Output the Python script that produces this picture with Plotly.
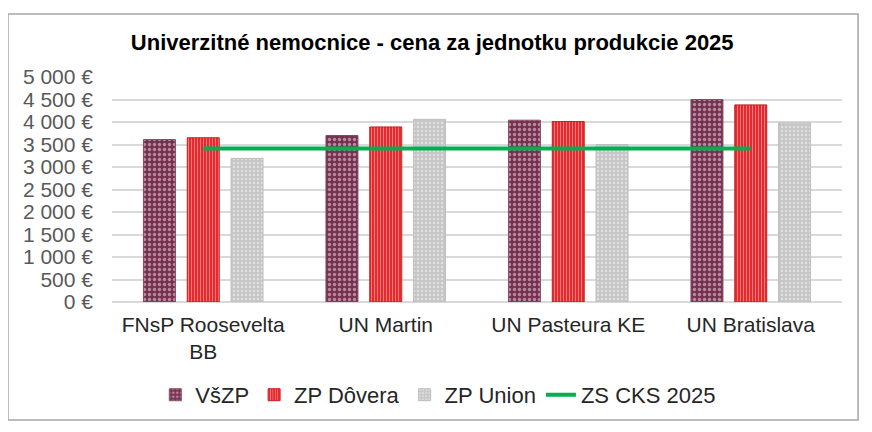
import plotly.graph_objects as go

# Data
hospitals = ["FNsP Roosevelta<br>BB", "UN Martin", "UN Pasteura KE", "UN Bratislava"]
vszp = [3610, 3700, 4040, 4500]
dovera = [3650, 3890, 4010, 4380]
union = [3190, 4060, 3500, 3980]
zs_cks_2025 = [3410, 3410, 3410, 3410]

fig = go.Figure()

fig.add_trace(go.Bar(
    x=hospitals, y=vszp, name="VšZP",
    marker=dict(color="#74324F", line=dict(color="#8A4A66", width=1),
                pattern=dict(shape=".", fgcolor="#B889A0", bgcolor="#74324F", size=5, solidity=0.35)),
))
fig.add_trace(go.Bar(
    x=hospitals, y=dovera, name="ZP Dôvera",
    marker=dict(color="#E42A2E", line=dict(color="#C81E22", width=1),
                pattern=dict(shape="|", fgcolor="#F27A7C", bgcolor="#E42A2E", size=3, solidity=0.35)),
))
fig.add_trace(go.Bar(
    x=hospitals, y=union, name="ZP Union",
    marker=dict(color="#C6C6C6", line=dict(color="#BDBDBD", width=1),
                pattern=dict(shape=".", fgcolor="#E0E0E0", bgcolor="#C6C6C6", size=4, solidity=0.3)),
))
fig.add_trace(go.Scatter(
    x=hospitals, y=zs_cks_2025, name="ZS CKS 2025",
    mode="lines", line=dict(color="#00B050", width=4),
))

# page body has an 8px margin, so the figure is a bit smaller than the window
fig.update_layout(
    width=864, height=424,
    template="none",
    paper_bgcolor="white", plot_bgcolor="white",
    font=dict(family="Liberation Sans, Arial", size=20, color="#404040"),
    separators=", ",
    title=dict(text="<b>Univerzitné nemocnice - cena za jednotku produkcie 2025</b>",
               x=0.491, xanchor="center", y=0.92, yanchor="middle",
               font=dict(size=22, color="black")),
    barmode="group", bargap=0.28, bargroupgap=0.27,
    margin=dict(l=104, r=30, t=69, b=130),
    showlegend=True,
    legend=dict(orientation="h", x=0.447, xanchor="center", y=-0.413, yanchor="middle",
                font=dict(size=22, color="#262626"), traceorder="normal",
                itemwidth=30, bgcolor="rgba(0,0,0,0)"),
    shapes=[dict(type="rect", xref="paper", yref="paper",
                 x0=-0.1425, x1=1.022, y0=-0.524, y1=1.28,
                 line=dict(color="#A6A6A6", width=1.5), fillcolor="rgba(0,0,0,0)")],
)

fig.update_yaxes(
    range=[0, 5000], dtick=500, tickformat=",d", ticksuffix=" €",
    showgrid=True, gridcolor="#D9D9D9", gridwidth=1.5,
    zeroline=True, zerolinecolor="#D9D9D9", zerolinewidth=1.5,
    tickfont=dict(size=21, color="#595959"), ticks="", showline=False,
    automargin=False, ticklabelstandoff=18,
)
fig.update_xaxes(
    tickfont=dict(size=21, color="#262626"), showline=False, ticks="",
    automargin=False, ticklabelstandoff=8,
)

fig.write_html("out.html")
